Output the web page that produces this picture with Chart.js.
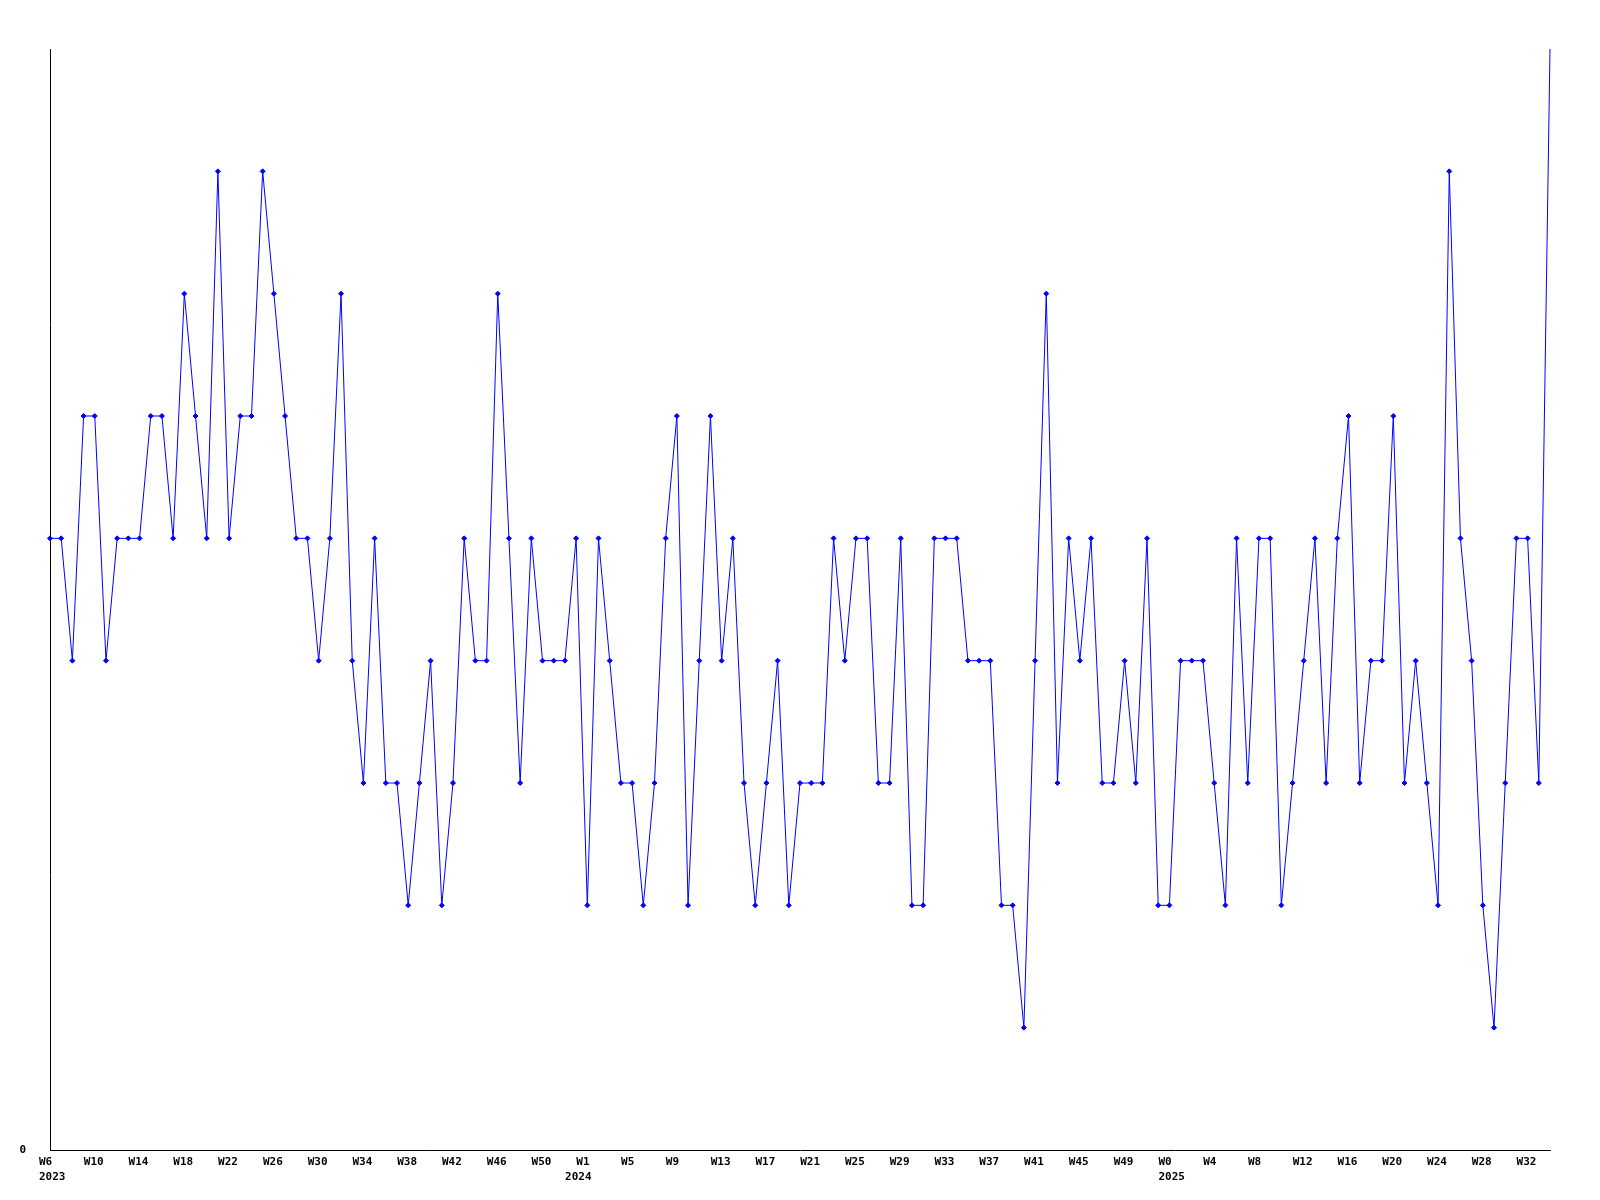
<!DOCTYPE html>
<html>
<head>
<meta charset="utf-8">
<script src="https://cdn.jsdelivr.net/npm/chart.js@4/dist/chart.umd.min.js"></script>
<style>
  body { margin: 0; background: #fff; }
  canvas { display: block; }
</style>
</head>
<body>
<canvas id="myChart" width="1600" height="1200"></canvas>
<script>
// weekly values, one per week from W6 2023 to W33 2025
const values = [
  5,5,4,6,6,4,5,5,5,6,6,5,7,6,5,8,5,6,6,8,7,6,5,5,4,5,7,4,3,5,3,3,2,3,
  4,2,3,5,4,4,7,5,3,5,4,4,4,5,2,5,4,3,3,2,3,5,6,2,4,6,4,5,3,2,3,4,2,
  3,3,3,5,4,5,5,3,3,5,2,2,5,5,5,4,4,4,2,2,1,4,7,3,5,4,5,3,3,4,3,5,2,2,
  4,4,4,3,2,5,3,5,5,2,3,4,5,3,5,6,3,4,4,6,3,4,3,2,8,5,4,2,1,3,5,5,3,9
];

// labels shown every 4th week
const tickWeeks = ['W6','W10','W14','W18','W22','W26','W30','W34','W38','W42','W46','W50',
  'W1','W5','W9','W13','W17','W21','W25','W29','W33','W37','W41','W45','W49',
  'W0','W4','W8','W12','W16','W20','W24','W28','W32'];
// year labels and the week (point index) where each year starts
const years = ['2023', '2024', '2025'];
const yearStartIndex = [0, 47, 100];

const tickEvery = 4;
const labels = values.map((v, i) => i);

const font = { family: "'DejaVu Sans Mono', monospace", size: 11, weight: 'bold' };

const ctx = document.getElementById('myChart').getContext('2d');

const config = {
  type: 'line',
  data: {
    labels: labels,
    datasets: [{
      data: values,
      borderColor: '#0000ff',
      borderWidth: 1,
      backgroundColor: '#0000ff',
      pointBackgroundColor: '#0000ff',
      pointBorderColor: '#0000ff',
      pointStyle: 'rectRot',
      pointRadius: c => (c.dataIndex === values.length - 1 ? 0 : 2.5),
      pointBorderWidth: 1,
      tension: 0,
      fill: false
    }]
  },
  options: {
    responsive: false,
    animation: false,
    layout: { padding: { top: 49, right: 50, left: 0, bottom: 0 } },
    scales: {
      x: {
        type: 'category',
        offset: false,
        weight: 0,
        grid: { display: false, drawTicks: false },
        border: { display: true, color: '#000', width: 1 },
        afterFit: s => { s.height = 15; },
        ticks: {
          autoSkip: false,
          maxRotation: 0,
          minRotation: 0,
          align: 'start',
          labelOffset: -11,
          padding: 6,
          color: '#000',
          font: font,
          callback: function (value, index) {
            return index % tickEvery === 0 ? tickWeeks[index / tickEvery] : '';
          }
        }
      },
      x2: {
        type: 'category',
        position: 'bottom',
        offset: false,
        weight: 1,
        grid: { display: false, drawTicks: false },
        border: { display: false },
        afterFit: s => { s.height = 35; },
        ticks: {
          autoSkip: false,
          maxRotation: 0,
          minRotation: 0,
          align: 'start',
          labelOffset: -11,
          padding: 6,
          color: '#000',
          font: font,
          callback: function (value, index) {
            const y = yearStartIndex.indexOf(index);
            return y >= 0 ? years[y] : '';
          }
        }
      },
      y: {
        min: 0,
        max: 9,
        grid: { display: false, drawTicks: false },
        border: { display: true, color: '#000', width: 1 },
        afterFit: s => { s.width = 50; },
        afterBuildTicks: s => { s.ticks = [{ value: 0 }]; },
        ticks: {
          padding: 24,
          color: '#000',
          font: font,
          callback: v => String(v)
        }
      }
    },
    plugins: {
      legend: { display: false },
      tooltip: { enabled: false }
    }
  }
};

const myChart = new Chart(ctx, config);
</script>
</body>
</html>
